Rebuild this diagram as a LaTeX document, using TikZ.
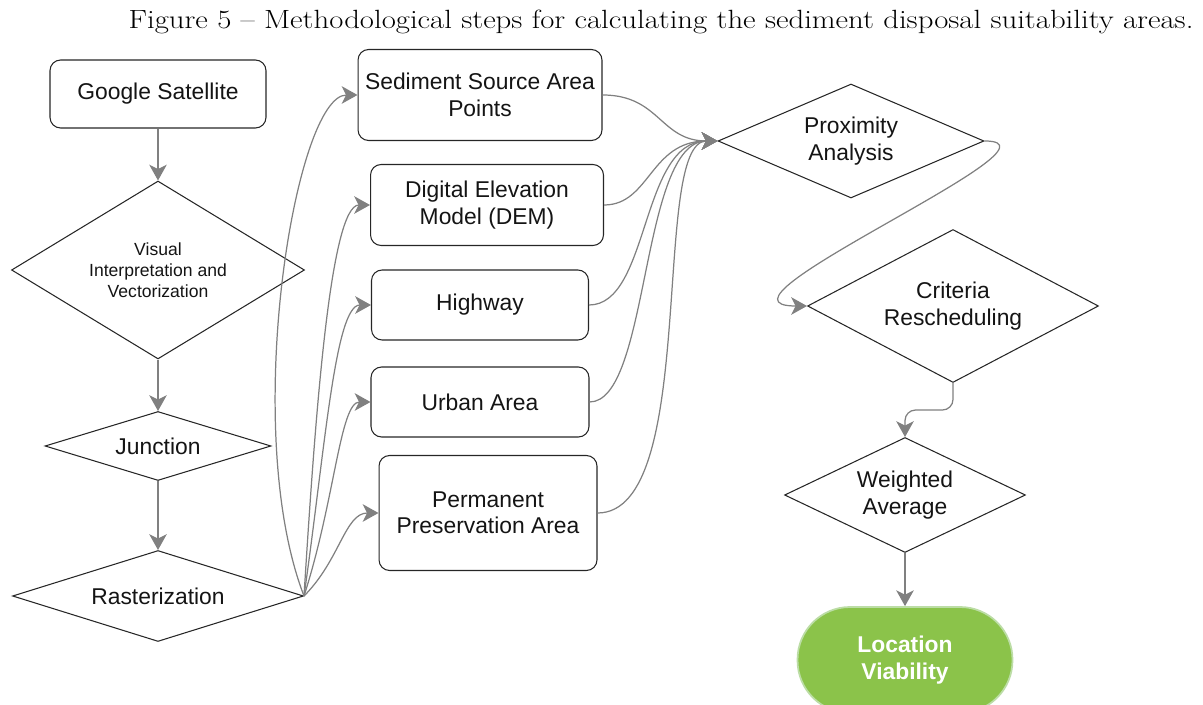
\documentclass[tikz,border=0pt]{standalone}
\usepackage{fontspec}
\setsansfont{Liberation Sans}
\usepackage{graphicx}
\usetikzlibrary{shapes.geometric,arrows.meta}
\definecolor{linkgray}{HTML}{808080}
\definecolor{okgreen}{HTML}{8BC34A}
\definecolor{okedge}{HTML}{BCDDA6}

\begin{document}
\begin{tikzpicture}[x=0.02cm,y=-0.02cm,
  every node/.style={font=\sffamily\fontsize{13}{15}\selectfont,text=black!92},
  box/.style={rectangle,rounded corners=6pt,draw=black!85,line width=0.6pt,align=center,inner sep=0pt},
  choice/.style={diamond,draw=black!85,line width=0.6pt,align=center,inner sep=0pt},
  link/.style={draw=linkgray,line width=0.7pt,-{Stealth[length=9pt,width=10pt,inset=2.5pt]}}]
\useasboundingbox (0,0) rectangle (1203,705);

\node[font=\rmfamily\fontsize{15}{17}\selectfont,text=black] (title) at (661,22)
  {\resizebox{21.3cm}{\height}{Figure 5 -- Methodological steps for calculating the sediment disposal suitability areas.}};

% left column
\node[box,minimum width=4.32cm,minimum height=1.36cm] (gs) at (158,94) {Google Satellite};
\node[choice,minimum width=5.86cm,minimum height=3.56cm,aspect=1.65,
  font=\sffamily\fontsize{10}{12}\selectfont] (vis) at (158,270) {Visual\\Interpretation and\\Vectorization};
\node[choice,minimum width=4.52cm,minimum height=1.38cm,aspect=3.3] (jun) at (158,446) {Junction};
\node[choice,minimum width=5.82cm,minimum height=1.82cm,aspect=3.2] (ras) at (158,596) {Rasterization};

% criteria layers
\node[box,minimum width=4.88cm,minimum height=1.82cm] (sed) at (480,95) {Sediment Source Area\\Points};
\node[box,minimum width=4.66cm,minimum height=1.62cm] (dem) at (487,205) {Digital Elevation\\Model (DEM)};
\node[box,minimum width=4.34cm,minimum height=1.4cm] (hwy) at (480,305) {Highway};
\node[box,minimum width=4.36cm,minimum height=1.4cm] (urb) at (480,402) {Urban Area};
\node[box,minimum width=4.36cm,minimum height=2.3cm] (app) at (488,513) {Permanent\\Preservation Area};

% right column
\node[choice,minimum width=5.32cm,minimum height=2.28cm,aspect=2.33] (prox) at (851,141) {Proximity\\Analysis};
\node[choice,minimum width=5.82cm,minimum height=3.06cm,aspect=1.9] (crit) at (953,306) {Criteria\\Rescheduling};
\node[choice,minimum width=4.82cm,minimum height=2.3cm,aspect=2.1] (wavg) at (905,495) {Weighted\\Average};
\node[rectangle,rounded corners=1.05cm,fill=okgreen,draw=okedge,line width=1pt,
  minimum width=4.3cm,minimum height=2.12cm,align=center,text=white,
  font=\sffamily\bfseries\fontsize{13}{15}\selectfont] (loc) at (905,660) {Location\\Viability};

\draw[link] (gs) -- (vis);
\draw[link] (vis) -- (jun);
\draw[link] (jun) -- (ras);

\draw[link] (ras.east) .. controls (240,430) and (295,95) .. (sed.west);
\draw[link] (ras.east) .. controls (315,420) and (330,205) .. (dem.west);
\draw[link] (ras.east) .. controls (325,450) and (335,305) .. (hwy.west);
\draw[link] (ras.east) .. controls (335,500) and (340,402) .. (urb.west);
\draw[link] (ras.east) .. controls (340,560) and (345,513) .. (app.west);

\draw[link] (sed.east) .. controls (660,95) and (660,141) .. (prox.west);
\draw[link] (dem.east) .. controls (650,205) and (650,141) .. (prox.west);
\draw[link] (hwy.east) .. controls (650,305) and (640,141) .. (prox.west);
\draw[link] (urb.east) .. controls (650,402) and (640,141) .. (prox.west);
\draw[link] (app.east) .. controls (700,513) and (650,141) .. (prox.west);

\draw[link] (prox.east) .. controls (1080,141) and (690,306) .. (crit.west);
\draw[link,rounded corners=6pt] (crit.south) -- ++(0,27) -| (wavg.north);
\draw[link] (wavg) -- (loc);
\end{tikzpicture}
\end{document}
